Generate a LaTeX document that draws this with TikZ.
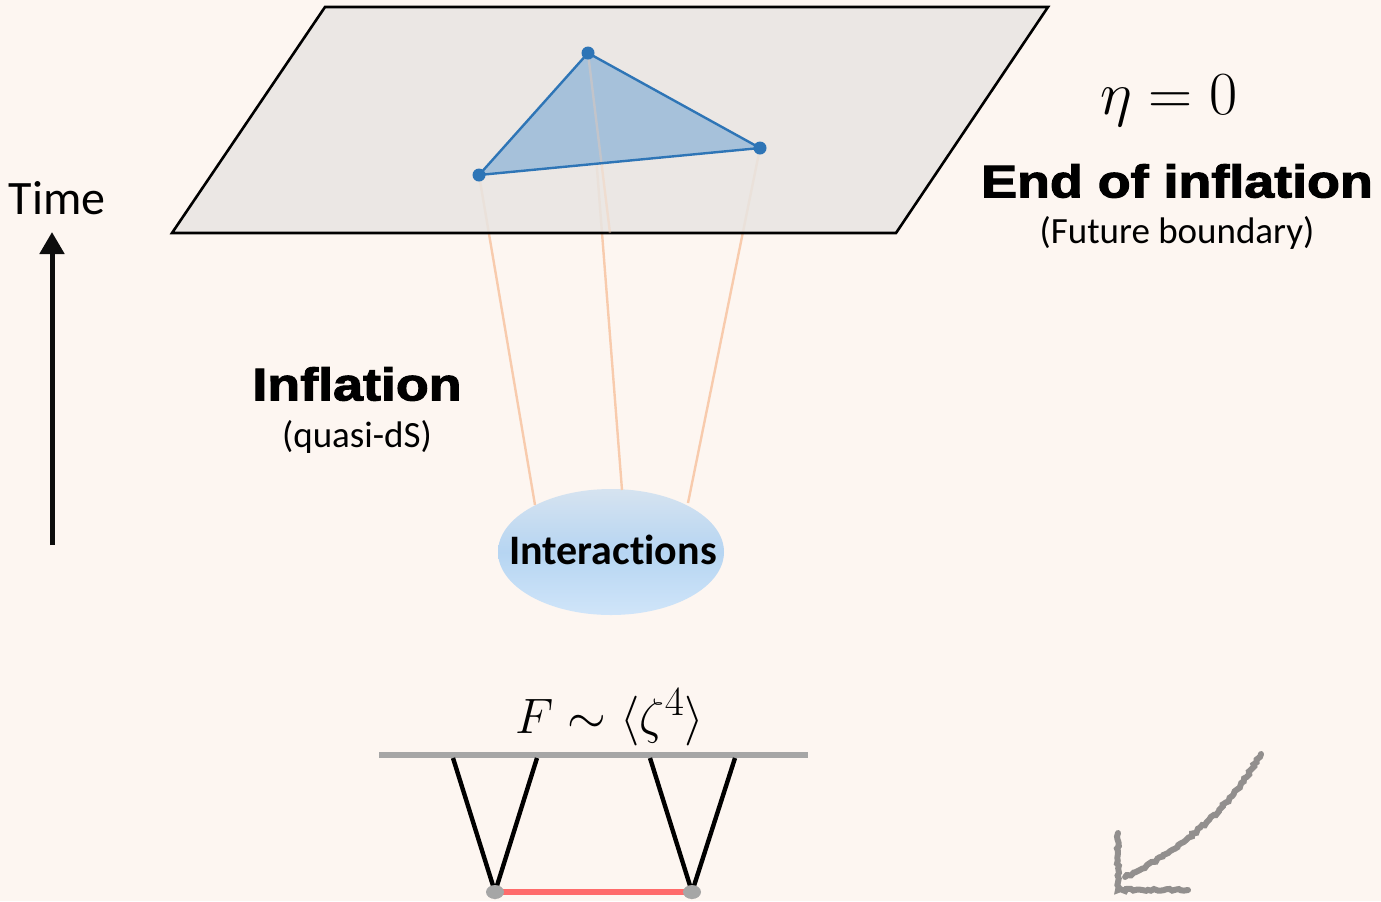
\documentclass[tikz,border=0pt]{standalone}
\usepackage{fontspec}
\setmainfont{Carlito}[Ligatures=NoCommon]
\newfontfamily\blackfont{Liberation Sans}[BoldFeatures={FakeBold=2.2}]
\usetikzlibrary{arrows.meta,shapes.geometric,decorations.pathmorphing}
\definecolor{bg}{RGB}{253,246,241}
\definecolor{plane}{RGB}{232,229,226}
\definecolor{trifill}{RGB}{163,192,218}
\definecolor{triline}{RGB}{46,117,182}
\definecolor{proj}{RGB}{248,203,173}
\definecolor{ellA}{RGB}{214,227,240}
\definecolor{ellB}{RGB}{182,213,242}
\definecolor{ellC}{RGB}{208,229,249}
\definecolor{basegray}{RGB}{166,166,166}
\definecolor{prop}{RGB}{255,107,107}
\begin{document}
\begin{tikzpicture}[x=0.5pt,y=-0.5pt,
  projline/.style={draw=proj,line width=1.2pt},
  vdot/.style={circle,fill=triline,inner sep=0pt,minimum size=6.5pt},
  gdot/.style={ellipse,fill=basegray,inner sep=0pt,minimum width=9pt,minimum height=7pt},
  leg/.style={line width=2.2pt,black},
  heavy/.style={font=\blackfont\bfseries\fontsize{23}{27}\selectfont},
  sub/.style={font=\fontsize{18.5}{22}\selectfont},
  pencil/.style={draw=black!65,line width=3pt,opacity=0.65,line cap=round,
    decorate,decoration={random steps,segment length=1.5pt,amplitude=0.6pt}}]
\fill[bg] (0,0) rectangle (1381,901);
\useasboundingbox (0,0) rectangle (1381,901);

% vertices and interaction blob
\coordinate (v1) at (479,175);
\coordinate (v2) at (588,53);
\coordinate (v3) at (760,148);
\node[ellipse,minimum width=113pt,minimum height=63pt,inner sep=0pt,
  top color=ellA,bottom color=ellC,middle color=ellB] (int) at (611,552) {};
\node[font=\bfseries\fontsize{21}{25}\selectfont] (intlab) at (613,550) {Interactions};

% projection lines
\draw[projline] (v1) -- (535,505);
\draw[projline] (v2) -- (622,490);
\draw[projline] (v3) -- (688,503);

% boundary plane
\coordinate (p1) at (325,7);
\coordinate (p2) at (1048,7);
\coordinate (p3) at (896,233);
\coordinate (p4) at (172,233);
\draw[fill=plane,fill opacity=0.85,line width=1.3pt,line join=miter] (p1) -- (p2) -- (p3) -- (p4) -- cycle;

% triangle
\fill[trifill,opacity=0.95] (v1) -- (v2) -- (v3) -- cycle;
\draw[projline,draw opacity=0.35] (v2) -- (610,233);
\draw[triline,line width=1.2pt,line join=round] (v1) -- (v2) -- (v3) -- cycle;
\node[vdot] (d1) at (v1) {};
\node[vdot] (d2) at (v2) {};
\node[vdot] (d3) at (v3) {};

% labels
\node[font=\fontsize{24.88}{30}\selectfont] (eta) at (1169,101) {\scalebox{1.23}{$\eta = 0$}};
\node[heavy] (end) at (1177,181) {\scalebox{1.17}[1]{End of inflation}};
\node[sub] (fut) at (1177,233) {(Future boundary)};
\node[heavy] (infl) at (357,384) {\scalebox{1.17}[1]{Inflation}};
\node[sub] (qds) at (357,437) {(quasi-dS)};

% time arrow
\node[font=\fontsize{24}{28}\selectfont] (time) at (57,198) {Time};
\coordinate (t0) at (52,545);
\coordinate (t1) at (52,232);
\draw[line width=2.5pt,black!95,-{Triangle[length=11pt,width=12pt]}] (t0) -- (t1);

% bottom diagram
\node[font=\fontsize{24.88}{30}\selectfont] (F) at (610,717) {$F \sim \langle \zeta^4 \rangle$};
\coordinate (b0) at (379,755);
\coordinate (b1) at (808,755);
\draw[basegray,line width=3pt] (b0) -- (b1);
\coordinate (a1) at (453,758);
\coordinate (a2) at (537,758);
\coordinate (a3) at (650,758);
\coordinate (a4) at (735,758);
\coordinate (x1) at (495,892);
\coordinate (x2) at (692,892);
\draw[prop,line width=2.6pt] (x1) -- (x2);
\draw[leg] (a1) -- (x1) -- (a2);
\draw[leg] (a3) -- (x2) -- (a4);
\node[gdot] (g1) at (x1) {};
\node[gdot] (g2) at (x2) {};

% pencil arrow
\coordinate (s0) at (1261,754);
\coordinate (s1) at (1125,877);
\coordinate (h0) at (1118,833);
\coordinate (h1) at (1118,890);
\coordinate (h2) at (1188,890);
\draw[pencil] (s0) .. controls (1225,815) and (1180,850) .. (s1);
\draw[pencil] (h0) -- (h1) -- (h2);
\end{tikzpicture}
\end{document}
